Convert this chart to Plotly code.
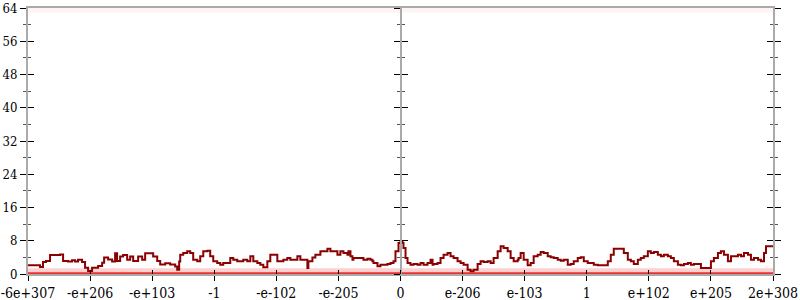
import plotly.graph_objects as go

# ---- data ----
tick_pos = [-6, -5, -4, -3, -2, -1, 0, 1, 2, 3, 4, 5, 6]
tick_text = ["-6e+307", "-e+206", "-e+103", "-1", "-e-102", "-e-205", "0",
             "e-206", "e-103", "1", "e+102", "e+205", "2e+308"]

line_x = [-6.0, -5.839, -5.806, -5.758, -5.710, -5.645, -5.484, -5.435, -5.355, -5.290,
          -5.242, -5.194, -5.129, -5.081, -5.032, -4.968, -4.871, -4.806, -4.774, -4.710,
          -4.645, -4.597, -4.565, -4.516, -4.468, -4.403, -4.355, -4.306, -4.226, -4.161,
          -4.113, -4.065, -3.984, -3.919, -3.871, -3.790, -3.710, -3.629, -3.597, -3.565,
          -3.548, -3.500, -3.435, -3.387, -3.339, -3.274, -3.226, -3.177, -3.113, -3.065,
          -3.016, -2.952, -2.903, -2.855, -2.790, -2.742, -2.694, -2.629, -2.581, -2.532,
          -2.468, -2.419, -2.371, -2.306, -2.258, -2.210, -2.145, -2.097, -2.048, -1.984,
          -1.935, -1.887, -1.823, -1.774, -1.726, -1.661, -1.613, -1.565, -1.500, -1.484,
          -1.419, -1.371, -1.290, -1.177, -1.129, -1.081, -1.016,
          -0.968, -0.919, -0.855, -0.839, -0.806, -0.774, -0.758, -0.694, -0.645, -0.597,
          -0.532, -0.484, -0.452, -0.435, -0.371, -0.323, -0.274, -0.210, -0.161, -0.113,
          -0.081, -0.032, 0.0, 0.032, 0.048, 0.081, 0.113, 0.161, 0.210, 0.274,
          0.323, 0.371, 0.435, 0.484, 0.516, 0.532, 0.597, 0.645, 0.694, 0.758,
          0.806, 0.855, 0.919, 0.968, 1.016, 1.081, 1.129, 1.177, 1.242, 1.290,
          1.339, 1.403, 1.452, 1.500, 1.565,
          1.613, 1.661, 1.726, 1.774, 1.823, 1.887, 1.903, 1.935, 1.984, 2.048,
          2.097, 2.145, 2.210, 2.258, 2.306, 2.371, 2.419, 2.468, 2.532, 2.581,
          2.629, 2.694, 2.742, 2.790, 2.855, 2.903, 2.952, 3.016, 3.065, 3.113,
          3.177, 3.274, 3.339, 3.387, 3.435, 3.548, 3.597, 3.661, 3.710, 3.758,
          3.823, 3.871, 3.919, 3.984,
          4.032, 4.081, 4.145, 4.194, 4.242, 4.306, 4.355, 4.403, 4.468, 4.516,
          4.565, 4.629, 4.677, 4.726, 4.790, 4.839, 4.952, 5.000, 5.048, 5.113,
          5.161, 5.210, 5.274, 5.323, 5.371, 5.435, 5.484, 5.532, 5.597, 5.645,
          5.694, 5.758, 5.806, 5.855, 5.887, 6.0]

line_y = [2.1, 2.1, 1.7, 2.9, 3.1, 4.6, 4.7, 3.1, 3.0, 3.3,
          3.0, 3.4, 2.9, 1.5, 0.7, 1.5, 1.9, 2.7, 4.0, 3.5,
          3.0, 5.0, 3.1, 4.2, 4.6, 3.4, 4.2, 3.1, 4.2, 3.4,
          5.0, 5.0, 4.2, 3.1, 2.3, 2.6, 2.3, 1.8, 1.0, 3.0,
          4.65, 5.05, 5.45, 5.05, 3.45, 3.05, 4.25, 5.45, 5.6, 4.25,
          3.05, 2.65, 2.25, 2.65, 2.65, 3.85, 3.45, 3.05, 3.05, 3.45,
          3.05, 4.25, 3.05, 2.65, 2.25, 1.6, 3.05, 4.65, 4.65, 3.05,
          3.05, 3.45, 3.85, 3.45, 3.45, 4.25, 3.45, 3.45, 1.44, 3.05,
          4.0, 4.65, 5.45, 6.06, 5.45, 5.45, 4.65,
          5.45, 5.05, 4.65, 5.45, 4.25, 3.45, 3.85, 3.85, 3.85, 3.45,
          3.69, 3.45, 3.05, 2.65, 1.84, 2.25, 2.25, 2.41, 2.65, 3.05,
          5.45, 7.46, 7.7, 7.46, 6.26, 3.85, 2.65, 2.25, 2.41, 2.25,
          2.65, 2.25, 2.65, 3.45, 2.25, 2.41, 2.65, 3.85, 4.65, 5.05,
          4.25, 3.85, 3.05, 2.65, 2.25, 1.04, 0.64, 1.04, 2.41, 3.05,
          2.89, 3.05, 2.65, 3.85, 5.45,
          6.66, 6.26, 5.45, 3.85, 3.05, 3.45, 3.85, 5.05, 3.45, 2.09,
          2.65, 4.25, 4.65, 5.29, 5.05, 4.25, 4.01, 3.85, 3.45, 3.21,
          3.45, 2.25, 2.41, 3.05, 3.85, 4.01, 3.05, 2.65, 2.65, 2.25,
          2.09, 2.09, 3.05, 4.65, 6.1, 6.1, 5.05, 3.45, 3.05, 2.41,
          3.45, 3.85, 4.25, 5.45,
          5.05, 5.29, 4.65, 4.25, 4.65, 4.25, 3.85, 3.05, 2.25, 2.09,
          2.41, 2.65, 2.25, 2.41, 2.41, 1.44, 1.44, 3.05, 3.85, 5.05,
          5.45, 4.65, 3.05, 4.25, 4.25, 4.65, 4.25, 5.05, 4.65, 3.45,
          3.85, 3.45, 3.05, 5.05, 6.66, 6.66]

band_x = [-6, 6]
band_low_top = [1.4, 1.4]
zero_level = [0, 0]
band_high_bottom = [62.9, 62.9]
band_high_top = [64, 64]

# ---- figure ----
FONT = "DejaVu Serif Condensed, DejaVu Serif, serif"
AX = "#aaaaaa"
fig = go.Figure()

fig.add_trace(go.Scatter(x=band_x, y=band_low_top, mode="lines", fill="tozeroy",
                         fillcolor="rgba(250,140,140,0.42)", line=dict(width=0),
                         hoverinfo="skip", showlegend=False))
fig.add_trace(go.Scatter(x=band_x, y=band_high_bottom, mode="lines",
                         line=dict(width=0), hoverinfo="skip", showlegend=False))
fig.add_trace(go.Scatter(x=band_x, y=band_high_top, mode="lines", fill="tonexty",
                         fillcolor="rgba(255,120,120,0.08)", line=dict(width=0),
                         hoverinfo="skip", showlegend=False))
fig.add_trace(go.Scatter(x=band_x, y=zero_level, mode="lines",
                         line=dict(color="rgba(230,30,30,0.9)", width=3.5),
                         hoverinfo="skip", showlegend=False))
fig.add_trace(go.Scatter(x=line_x, y=line_y, mode="lines",
                         line=dict(color="#8b0000", width=2, shape="hv"), showlegend=False))

# empty traces to activate extra axes
for ya in ["y2", "y3", "y4"]:
    fig.add_trace(go.Scatter(x=[None], y=[None], yaxis=ya, showlegend=False, hoverinfo="skip"))
fig.add_trace(go.Scatter(x=[None], y=[None], xaxis="x2", showlegend=False, hoverinfo="skip"))

yrange = [0, 64]
xrange_ = [-6, 6]
ycommon = dict(range=yrange, dtick=8, tick0=0, showgrid=False, zeroline=False,
               ticklen=6, tickwidth=1, tickcolor="#000000", fixedrange=True,
               automargin=False)
yminor = lambda t: dict(dtick=4, ticklen=3, tickcolor="#555555", ticks=t, showgrid=False)

fig.update_layout(
    width=800, height=300,
    margin=dict(l=28, r=27, t=8, b=26, autoexpand=False),
    paper_bgcolor="white", plot_bgcolor="white",
    font=dict(family=FONT, size=13, color="#000000"),
    xaxis=dict(range=xrange_, tickvals=tick_pos, ticktext=tick_text, ticks="outside",
               ticklen=5, tickcolor="#000000", showgrid=False, zeroline=False,
               showline=True, linecolor=AX, linewidth=2, mirror=True, automargin=False,
               ticklabeloverflow="allow",
               tickfont=dict(family=FONT, size=14)),
    xaxis2=dict(range=xrange_, tickvals=tick_pos, ticks="inside", ticklen=4,
                tickcolor="#000000", showticklabels=False, showgrid=False,
                zeroline=False, overlaying="x", anchor="y", automargin=False),
    yaxis=dict(**ycommon, ticks="outside", showline=True, linecolor=AX, linewidth=2,
               mirror="ticks", minor=yminor("outside"),
               tickfont=dict(family=FONT, size=13)),
    yaxis2=dict(**ycommon, ticks="inside", showticklabels=False, overlaying="y",
                mirror="ticks", minor=yminor("inside")),
    yaxis3=dict(**ycommon, ticks="outside", showticklabels=False, overlaying="y",
                anchor="free", position=0.5, showline=True, linecolor=AX, linewidth=2,
                minor=yminor("outside")),
    yaxis4=dict(**ycommon, ticks="inside", showticklabels=False, overlaying="y",
                anchor="free", position=0.5, minor=yminor("inside")),
)

fig.write_html("out.html")
